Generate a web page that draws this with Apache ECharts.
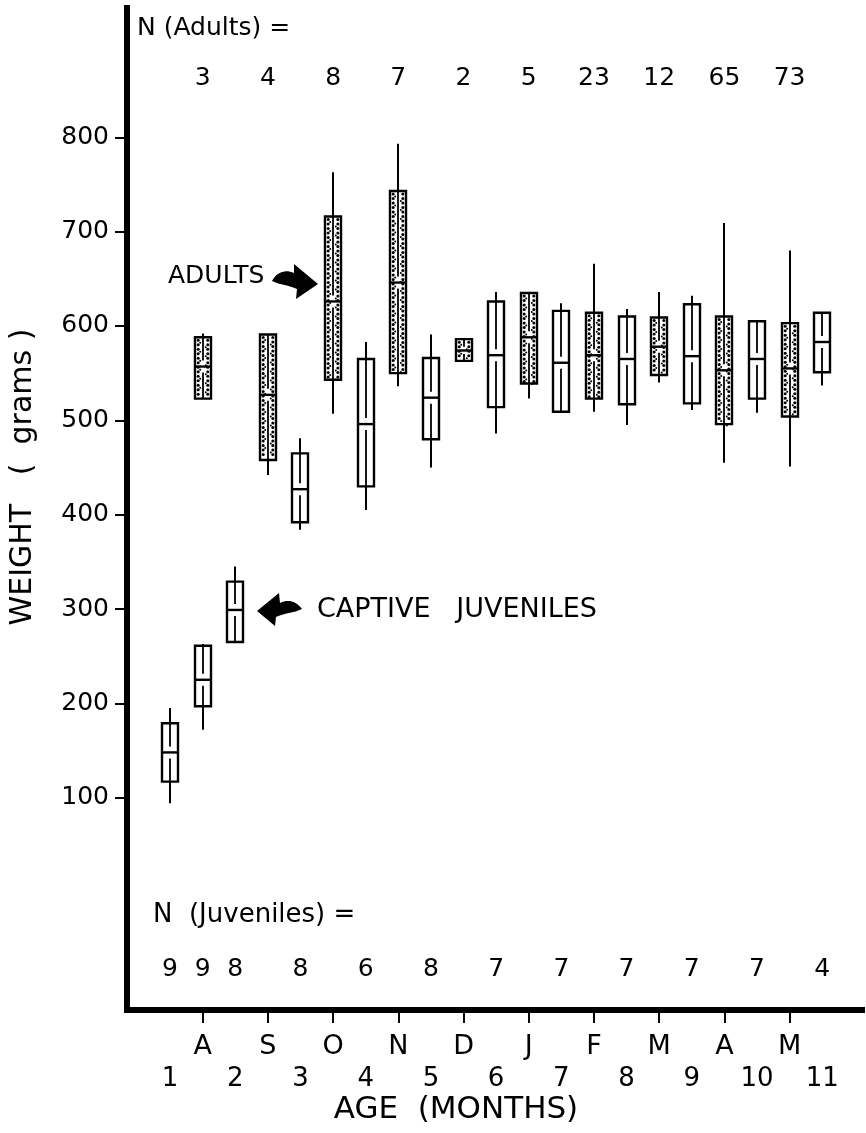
<!DOCTYPE html>
<html><head><meta charset="utf-8">
<script src="https://cdn.jsdelivr.net/npm/echarts@6/dist/echarts.min.js"></script>
<style>html,body{margin:0;padding:0;background:#fff}#c{width:866px;height:1133px}</style>
</head><body><div id="c"></div>
<script>
// ---- Data ----
const monthLabels = ['A','S','O','N','D','J','F','M','A','M'];
const monthPos = [1.5,2.5,3.5,4.5,5.5,6.5,7.5,8.5,9.5,10.5];
const ageTicks = [1,2,3,4,5,6,7,8,9,10,11];
const yTicks = [100,200,300,400,500,600,700,800];

// Captive juveniles (age in months)
const juvAge = [1,1.5,2,3,4,5,6,7,8,9,10,11];
const juvMin = [94,172,265,384,405,450,486,509,495,511,508,537];
const juvQ1  = [117,197,265,392,430,480,514,509,517,518,523,551];
const juvMed = [148,225,299,427,496,524,569,561,565,568,565,583];
const juvQ3  = [179,261,329,465,565,566,626,616,610,623,605,614];
const juvMax = [195,263,345,481,583,591,636,624,618,632,605,614];
const nJuveniles = [9,9,8,8,6,8,7,7,7,7,7,4];

// Adults (placed at calendar months A..M)
const adultAge = [1.5,2.5,3.5,4.5,5.5,6.5,7.5,8.5,9.5,10.5];
const adultMin = [523,442,507,536,563,523,509,540,455,451];
const adultQ1  = [523,458,543,550,563,539,523,548,496,504];
const adultMed = [557,527,626,646,574,588,569,578,553,555];
const adultQ3  = [588,591,716,743,586,635,614,609,610,603];
const adultMax = [592,591,763,793,586,636,666,636,709,680];
const nAdults = [3,4,8,7,2,5,23,12,65,73];

// ---- Chart ----
const FONT = 'DejaVu Sans';
const ADULT_N_Y = 862, JUV_N_Y = -82;
const chart = echarts.init(document.getElementById('c'), null, {renderer:'canvas'});

function boxRenderer(dotted){
  return function(params, api){
    const x = api.value(0);
    const pLow = api.coord([x, api.value(1)]);
    const pQ1 = api.coord([x, api.value(2)]);
    const pMed = api.coord([x, api.value(3)]);
    const pQ3 = api.coord([x, api.value(4)]);
    const pHigh = api.coord([x, api.value(5)]);
    const cx = Math.round(pMed[0]);
    const w = 16;
    const L = cx - w/2, R = cx + w/2;
    const ch = [];
    const ls = {stroke:'#000', lineWidth:2};
    if (pHigh[1] < pQ3[1] - 1) ch.push({type:'line', shape:{x1:cx,y1:pHigh[1],x2:cx,y2:pQ3[1]}, style:ls});
    if (pLow[1] > pQ1[1] + 1) ch.push({type:'line', shape:{x1:cx,y1:pQ1[1],x2:cx,y2:pLow[1]}, style:ls});
    const top = pQ3[1], bot = pQ1[1], h = bot - top;
    ch.push({type:'rect', shape:{x:L, y:top, width:w, height:h}, style:{fill:'#fff', stroke:'#000', lineWidth:2.4}});
    if (dotted) {
      for (let yy = top + 3; yy < bot - 1.5; yy += 4.5) {
        ch.push({type:'circle', shape:{cx:L+3.2, cy:yy, r:1.5}, style:{fill:'#000'}});
        ch.push({type:'circle', shape:{cx:R-3.2, cy:yy, r:1.5}, style:{fill:'#000'}});
      }
      for (let yy = top + 5.5; yy < bot - 3; yy += 9) {
        ch.push({type:'circle', shape:{cx:cx-2.8, cy:yy, r:1}, style:{fill:'#000'}});
        ch.push({type:'circle', shape:{cx:cx+2.8, cy:yy+4.5, r:1}, style:{fill:'#000'}});
      }
    }
    const gap = Math.min(6, h/6);
    if (pMed[1] - gap > top + 2) ch.push({type:'line', shape:{x1:cx,y1:top,x2:cx,y2:pMed[1]-gap}, style:{stroke:'#000', lineWidth:1.8}});
    if (pMed[1] + gap < bot - 2) ch.push({type:'line', shape:{x1:cx,y1:pMed[1]+gap,x2:cx,y2:bot}, style:{stroke:'#000', lineWidth:1.8}});
    ch.push({type:'line', shape:{x1:L,y1:pMed[1],x2:R,y2:pMed[1]}, style:{stroke:'#000', lineWidth:2.4}});
    return {type:'group', children:ch};
  };
}

function nRenderer(yVal){
  return function(params, api){
    const p = api.coord([api.value(0), yVal]);
    return {type:'text', x:p[0], y:p[1], style:{text:String(api.value(1)), font:'25px "'+FONT+'"', fill:'#000', align:'center', verticalAlign:'middle'}};
  };
}

function arrowRenderer(){
  return {type:'group', children:[
    {type:'path', x:272, y:264, shape:{pathData:'M0,17 C5,8 13,5 22,9 L22,0 L46,20 L24,35 L25,25 C17,21 8,21 0,17 Z'}, style:{fill:'#000'}},
    {type:'path', x:257, y:593, shape:{pathData:'M45,16 C39,8 31,6 23,10 L22,0 L0,18 L18,33 L19,24 C27,20 37,20 45,16 Z'}, style:{fill:'#000'}}
  ]};
}

const juvData = juvAge.map((a,i)=>[a, juvMin[i], juvQ1[i], juvMed[i], juvQ3[i], juvMax[i]]);
const adultData = adultAge.map((a,i)=>[a, adultMin[i], adultQ1[i], adultMed[i], adultQ3[i], adultMax[i]]);

const option = {
  animation:false,
  backgroundColor:'#fff',
  textStyle:{fontFamily:FONT, color:'#000'},
  grid:{left:127, right:4, top:8, bottom:123, containLabel:false},
  xAxis:[{
    type:'value', min:0.34, max:11.61, position:'bottom',
    axisLine:{show:true, onZero:false, lineStyle:{color:'#000', width:6, cap:'square'}},
    axisTick:{show:true, customValues:monthPos, length:13, lineStyle:{color:'#000', width:2}},
    axisLabel:{show:true, customValues:monthPos, margin:23, fontSize:27, color:'#000', fontFamily:FONT,
      formatter:v=>monthLabels[Math.round(v-1.5)]},
    splitLine:{show:false}
  },{
    type:'value', min:0.34, max:11.61, position:'bottom', offset:33,
    axisLine:{show:false, onZero:false}, axisTick:{show:false},
    axisLabel:{show:true, customValues:ageTicks, margin:23, fontSize:26, color:'#000', fontFamily:FONT,
      formatter:v=>String(v)},
    splitLine:{show:false}
  }],
  yAxis:{
    type:'value', min:-125, max:937,
    axisLine:{show:true, onZero:false, lineStyle:{color:'#000', width:6, cap:'square'}},
    axisTick:{show:true, customValues:yTicks, length:12, lineStyle:{color:'#000', width:2}},
    axisLabel:{show:true, customValues:yTicks, margin:18, fontSize:25, color:'#000', fontFamily:FONT},
    splitLine:{show:false}
  },
  series:[
    {type:'custom', name:'Captive juveniles', renderItem:boxRenderer(false), data:juvData, clip:false, z:3},
    {type:'custom', name:'Adults', renderItem:boxRenderer(true), data:adultData, clip:false, z:4},
    {type:'custom', name:'N adults', renderItem:nRenderer(ADULT_N_Y), data:adultAge.map((a,i)=>[a,nAdults[i]]), clip:false},
    {type:'custom', name:'N juveniles', renderItem:nRenderer(JUV_N_Y), data:juvAge.map((a,i)=>[a,nJuveniles[i]]), clip:false},
    {type:'custom', name:'arrows', renderItem:arrowRenderer, data:[[0,0]], clip:false, silent:true}
  ],
  graphic:[
    {type:'text', x:137, y:28, style:{text:'N (Adults) =', font:'25px "'+FONT+'"', fill:'#000', verticalAlign:'middle'}},
    {type:'text', x:153, y:915, style:{text:'N  (Juveniles) =', font:'26px "'+FONT+'"', fill:'#000', verticalAlign:'middle'}},
    {type:'text', x:23, y:477, rotation:Math.PI/2, style:{text:'WEIGHT   (  grams )', font:'30px "'+FONT+'"', fill:'#000', align:'center', verticalAlign:'middle'}},
    {type:'text', x:456, y:1110, style:{text:'AGE  (MONTHS)', font:'31px "'+FONT+'"', fill:'#000', align:'center', verticalAlign:'middle'}},
    {type:'text', x:168, y:276, style:{text:'ADULTS', font:'25px "'+FONT+'"', fill:'#000', verticalAlign:'middle'}},
    {type:'text', x:317, y:610, style:{text:'CAPTIVE   JUVENILES', font:'27px "'+FONT+'"', fill:'#000', verticalAlign:'middle'}}
  ]
};
chart.setOption(option);
</script>
</body></html>
